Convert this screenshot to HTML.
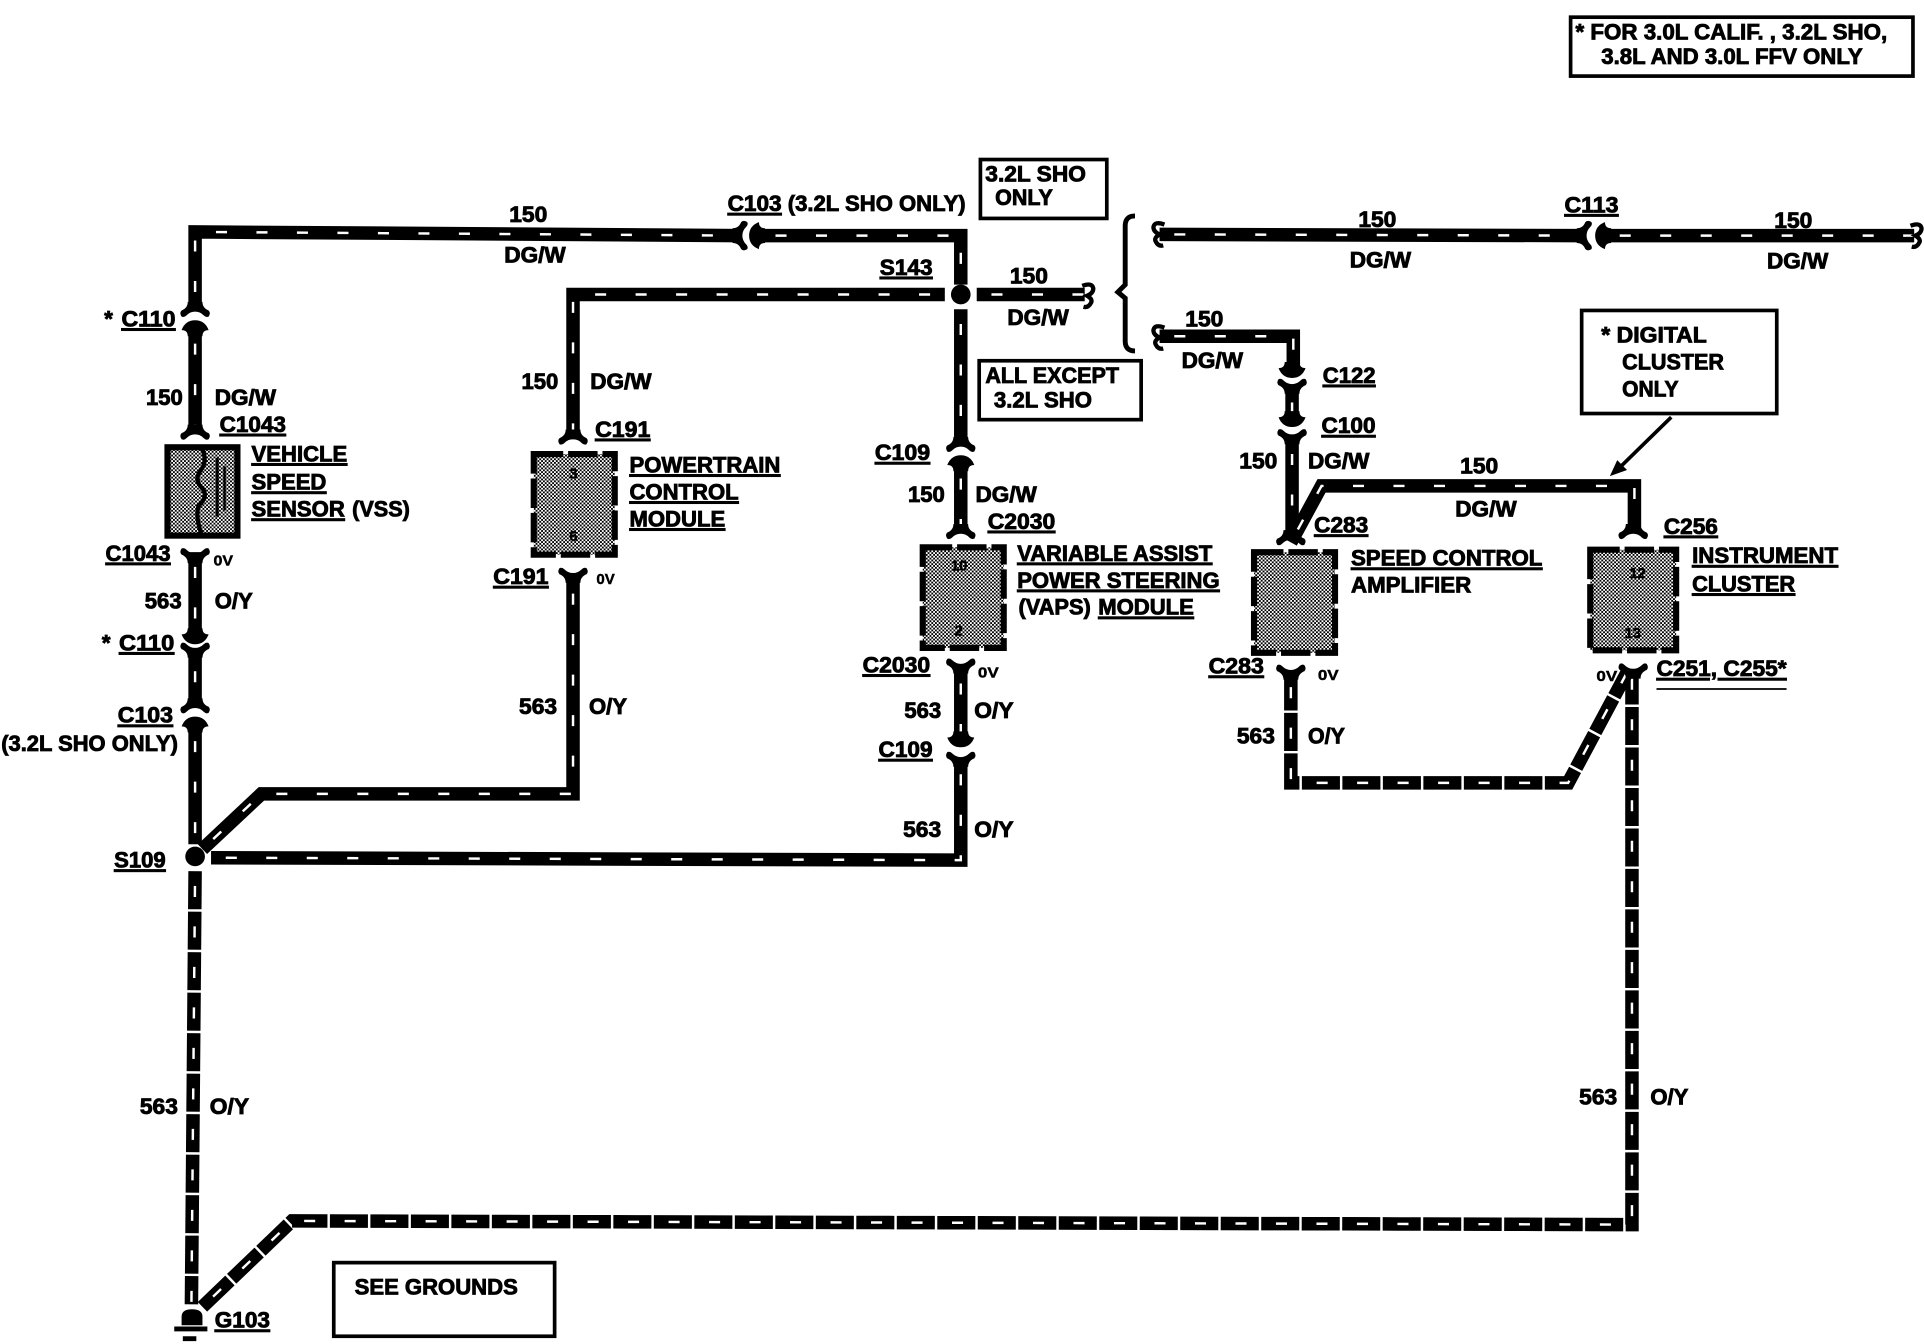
<!DOCTYPE html>
<html><head><meta charset="utf-8"><title>Diagram</title>
<style>
html,body{margin:0;padding:0;background:#fff}
svg{display:block}
text{font-family:"Liberation Sans",sans-serif;font-weight:bold;font-size:18px;fill:#000;stroke:#000;stroke-width:.7}
.u{text-decoration:underline}
.s{font-size:12px;stroke-width:.35}
.w{fill:none;stroke:#000;stroke-width:11;stroke-linejoin:miter}
.d{fill:none;stroke:#fff;stroke-width:2;stroke-dasharray:9 24;stroke-dashoffset:-12}
.g{fill:none;stroke:#000;stroke-width:11;stroke-dasharray:31 2}
.b{fill:none;stroke:#000;stroke-width:3}
.m{fill:url(#dots);stroke:#000;stroke-width:5;stroke-dasharray:24 4}
</style></head><body>
<svg width="1924" height="1344" viewBox="0 0 1568 1095.3" xmlns="http://www.w3.org/2000/svg">
<defs>
<pattern id="dots" patternUnits="userSpaceOnUse" width="3" height="3">
<rect width="3" height="3" fill="#fff"/><rect width="1.5" height="1.5" fill="#000"/><rect x="1.5" y="1.5" width="1.5" height="1.5" fill="#000"/>
</pattern>
<path id="f" d="M-6,-8 L6,-8 Q6,-3 11,-1 Q13,1 11,4 Q9,5 7,3 Q4,0 0,0 Q-4,0 -7,3 Q-9,5 -11,4 Q-13,1 -11,-1 Q-6,-3 -6,-8Z" fill="#000"/>
<path id="c" d="M-6,8 L6,8 Q6,3 11,3 Q8,-5 0,-5 Q-8,-5 -11,3 Q-6,3 -6,8Z" fill="#000"/>
<path id="sq" d="M-4,-8 Q4,-11 5,-6 Q5,-2 0,0 Q5,3 3,6 Q1,10 -3,9" fill="none" stroke="#000" stroke-width="3.500"/>
</defs>

<!-- wires 150 -->
<path class="w" d="M159,250 V189 L603,192"/><path class="d" d="M159,250 V189 L603,192"/>
<path class="w" d="M620,192 H783 V232"/><path class="d" d="M620,192 H783 V232"/>
<path class="w" d="M159,268 V352"/><path class="d" d="M159,268 V352"/>
<path class="w" d="M770,240 H467 V358"/><path class="d" d="M770,240 H467 V358"/>
<path class="w" d="M796,240 H884"/><path class="d" d="M796,240 H884"/>
<path class="w" d="M783,252 V362"/><path class="d" d="M783,252 V362"/>
<path class="w" d="M783,378 V432"/><path class="d" d="M783,378 V432"/>
<path class="w" d="M945,191 L1288,192"/><path class="d" d="M945,191 L1288,192"/>
<path class="w" d="M1308,192 H1560"/><path class="d" d="M1308,192 H1560"/>
<path class="w" d="M945,274 H1054 V298"/><path class="d" d="M945,274 H1054 V298"/>
<path class="w" d="M1053,316 V340"/><path class="d" d="M1053,316 V340"/>
<path class="w" d="M1053,358 V440"/><path class="d" d="M1053,358 V440"/>
<path class="w" d="M1052,442 L1077,396 H1332 V430"/><path class="d" d="M1052,442 L1077,396 H1332 V430"/>

<!-- wires 563 -->
<path class="w" d="M159,450 V518"/><path class="d" d="M159,450 V518"/>
<path class="w" d="M159,535 V575"/><path class="d" d="M159,535 V575"/>
<path class="w" d="M159,592 V688"/><path class="d" d="M159,592 V688"/>
<path class="w" d="M165,692 L213,647 H467 V470"/><path class="d" d="M165,692 L213,647 H467 V470"/>
<path class="w" d="M172,699 L783,701 V622"/><path class="d" d="M172,699 L783,701 V622"/>
<path class="w" d="M783,545 V603"/><path class="d" d="M783,545 V603"/>
<path class="g" d="M159,710 L156,1063"/><path class="d" d="M159,710 L156,1063"/>
<path class="g" d="M165,1065 L238,995 L1330,998 V552"/><path class="d" d="M165,1065 L238,995 L1330,998 V552"/>
<path class="g" d="M1052,548 V638 H1278 L1326,548"/><path class="d" d="M1052,548 V638 H1278 L1326,548"/>

<!-- connectors -->
<use href="#f" x="159" y="254"/><use href="#c" x="159" y="266"/>
<use href="#f" x="159" y="354"/>
<use href="#f" transform="translate(159,451) scale(1,-1)"/>
<use href="#c" transform="translate(159,520) scale(1,-1)"/><use href="#f" transform="translate(159,528) scale(1,-1)"/>
<use href="#f" x="159" y="577"/><use href="#c" x="159" y="589"/>
<use href="#f" x="467" y="358"/>
<use href="#f" transform="translate(467,467) scale(1,-1)"/>
<use href="#f" x="783" y="364"/><use href="#c" x="783" y="376"/>
<use href="#f" x="783" y="435"/>
<use href="#f" transform="translate(783,541) scale(1,-1)"/>
<use href="#c" transform="translate(783,604) scale(1,-1)"/><use href="#f" transform="translate(783,617) scale(1,-1)"/>
<use href="#c" transform="translate(1053,303) scale(1,-1)"/><use href="#f" transform="translate(1053,313) scale(1,-1)"/>
<use href="#c" transform="translate(1053,343) scale(1,-1)"/><use href="#f" transform="translate(1053,354) scale(1,-1)"/>
<use href="#f" x="1052" y="440"/>
<use href="#f" transform="translate(1052,546) scale(1,-1)"/>
<use href="#f" x="1331" y="435"/>
<use href="#f" transform="translate(1331,545) scale(1,-1)"/>
<use href="#f" transform="translate(605,192) rotate(-90)"/><use href="#c" transform="translate(615.500,192) rotate(-90)"/>
<use href="#f" transform="translate(1293,192) rotate(-90)"/><use href="#c" transform="translate(1305,192) rotate(-90)"/>
<!-- splices -->
<circle cx="783" cy="240" r="8"/><circle cx="159" cy="698" r="8"/>
<!-- squiggles -->
<use href="#sq" x="886" y="241"/><use href="#sq" transform="translate(945,191) scale(-1,1)"/><use href="#sq" transform="translate(945,275) scale(-1,1)"/><use href="#sq" x="1561" y="192"/>
<!-- brace -->
<path d="M925,176 Q917,176 917,184 V232 L911,238 L917,243 V278 Q917,286 925,286" fill="none" stroke="#000" stroke-width="4"/>
<!-- ground -->
<path d="M148,1080 V1073 Q148,1067 156.500,1067 Q165,1067 165,1073 V1080Z M142,1081 H169 V1085 H142Z M149,1089 H160 V1093 H149Z" fill="#000"/>

<!-- VSS sensor -->
<rect x="136.500" y="364.500" width="57" height="72" fill="url(#dots)" stroke="#000" stroke-width="5"/>
<path d="M164,364 Q170,376 163,384 Q158,392 165,398 Q170,405 162,412 Q159,420 164,435" fill="none" stroke="#000" stroke-width="3.500"/>
<path d="M177,373 V421" stroke="#000" stroke-width="2.500" fill="none"/>
<path d="M183,380 V416" stroke="#000" stroke-width="2" fill="none"/>
<!-- modules -->
<rect class="m" x="435" y="370" width="66" height="82"/>
<rect class="m" x="752" y="446" width="66" height="82"/>
<rect class="m" x="1022" y="450" width="66" height="82"/>
<rect class="m" x="1296" y="448" width="70" height="82"/>
<text class="s" x="464" y="390">3</text><text class="s" x="464" y="441">6</text>
<text class="s" x="775" y="465">10</text><text class="s" x="778" y="518">2</text>
<text class="s" x="1328" y="471">12</text><text class="s" x="1324" y="520">13</text>

<!-- boxes -->
<rect class="b" x="1280" y="14" width="279" height="48"/>
<rect class="b" x="799" y="130" width="103" height="48"/>
<rect class="b" x="798" y="294" width="132" height="48"/>
<rect class="b" x="1289" y="253" width="159" height="84"/>
<rect class="b" x="272" y="1029" width="180" height="60"/>
<path d="M1362,340 L1320,381" stroke="#000" stroke-width="3"/>
<path d="M1312,388 L1318,375 L1326,383Z" fill="#000"/>

<!-- box text -->
<text x="1284" y="32" textLength="254" lengthAdjust="spacingAndGlyphs">* FOR 3.0L CALIF. , 3.2L SHO,</text>
<text x="1305" y="52" textLength="213" lengthAdjust="spacingAndGlyphs">3.8L AND 3.0L FFV ONLY</text>
<text x="803" y="148" textLength="82" lengthAdjust="spacingAndGlyphs">3.2L SHO</text>
<text x="811" y="167" textLength="47" lengthAdjust="spacingAndGlyphs">ONLY</text>
<text x="803" y="312" textLength="109" lengthAdjust="spacingAndGlyphs">ALL EXCEPT</text>
<text x="810" y="332" textLength="80" lengthAdjust="spacingAndGlyphs">3.2L SHO</text>
<text x="1305" y="279" textLength="86" lengthAdjust="spacingAndGlyphs">* DIGITAL</text>
<text x="1322" y="301" textLength="83" lengthAdjust="spacingAndGlyphs">CLUSTER</text>
<text x="1322" y="323" textLength="46" lengthAdjust="spacingAndGlyphs">ONLY</text>
<text x="289" y="1055" textLength="133" lengthAdjust="spacingAndGlyphs">SEE GROUNDS</text>

<!-- labels -->
<text x="415" y="181" textLength="31" lengthAdjust="spacingAndGlyphs">150</text>
<text x="411" y="214" textLength="50" lengthAdjust="spacingAndGlyphs">DG/W</text>
<text class="u" x="593" y="172" textLength="44" lengthAdjust="spacingAndGlyphs">C103</text>
<text x="642" y="172" textLength="145" lengthAdjust="spacingAndGlyphs">(3.2L SHO ONLY)</text>
<text class="u" x="717" y="224" textLength="43" lengthAdjust="spacingAndGlyphs">S143</text>
<text x="823" y="231" textLength="31" lengthAdjust="spacingAndGlyphs">150</text>
<text x="821" y="265" textLength="50" lengthAdjust="spacingAndGlyphs">DG/W</text>
<text x="1107" y="185" textLength="31" lengthAdjust="spacingAndGlyphs">150</text>
<text x="1100" y="218" textLength="50" lengthAdjust="spacingAndGlyphs">DG/W</text>
<text class="u" x="1275" y="173" textLength="44" lengthAdjust="spacingAndGlyphs">C113</text>
<text x="1446" y="186" textLength="31" lengthAdjust="spacingAndGlyphs">150</text>
<text x="1440" y="219" textLength="50" lengthAdjust="spacingAndGlyphs">DG/W</text>
<text x="966" y="266" textLength="31" lengthAdjust="spacingAndGlyphs">150</text>
<text x="963" y="300" textLength="50" lengthAdjust="spacingAndGlyphs">DG/W</text>
<text class="u" x="1078" y="312" textLength="43" lengthAdjust="spacingAndGlyphs">C122</text>
<text class="u" x="1077" y="353" textLength="44" lengthAdjust="spacingAndGlyphs">C100</text>
<text x="1010" y="382" textLength="31" lengthAdjust="spacingAndGlyphs">150</text>
<text x="1066" y="382" textLength="50" lengthAdjust="spacingAndGlyphs">DG/W</text>
<text x="1190" y="386" textLength="31" lengthAdjust="spacingAndGlyphs">150</text>
<text x="1186" y="421" textLength="50" lengthAdjust="spacingAndGlyphs">DG/W</text>
<text class="u" x="1071" y="434" textLength="44" lengthAdjust="spacingAndGlyphs">C283</text>
<text class="u" x="1356" y="435" textLength="44" lengthAdjust="spacingAndGlyphs">C256</text>
<text class="u" x="1101" y="461" textLength="156" lengthAdjust="spacingAndGlyphs">SPEED CONTROL</text>
<text x="1101" y="483" textLength="98" lengthAdjust="spacingAndGlyphs">AMPLIFIER</text>
<text class="u" x="1379" y="459" textLength="119" lengthAdjust="spacingAndGlyphs">INSTRUMENT</text>
<text class="u" x="1379" y="482" textLength="84" lengthAdjust="spacingAndGlyphs">CLUSTER</text>
<text class="u" x="985" y="549" textLength="45" lengthAdjust="spacingAndGlyphs">C283</text>
<text class="s" x="1074" y="554" textLength="17" lengthAdjust="spacingAndGlyphs">0V</text>
<text x="1008" y="606" textLength="31" lengthAdjust="spacingAndGlyphs">563</text>
<text x="1066" y="606" textLength="30" lengthAdjust="spacingAndGlyphs">O/Y</text>
<text class="s" x="1301" y="555" textLength="17" lengthAdjust="spacingAndGlyphs">0V</text>
<text class="u" x="1350" y="551" textLength="106" lengthAdjust="spacingAndGlyphs">C251, C255*</text>
<path d="M1350,561.500 H1456" stroke="#000" stroke-width="1.500"/>
<text x="1287" y="900" textLength="31" lengthAdjust="spacingAndGlyphs">563</text>
<text x="1345" y="900" textLength="31" lengthAdjust="spacingAndGlyphs">O/Y</text>
<text class="u" x="713" y="375" textLength="45" lengthAdjust="spacingAndGlyphs">C109</text>
<text x="740" y="409" textLength="30" lengthAdjust="spacingAndGlyphs">150</text>
<text x="795" y="409" textLength="50" lengthAdjust="spacingAndGlyphs">DG/W</text>
<text class="u" x="805" y="431" textLength="55" lengthAdjust="spacingAndGlyphs">C2030</text>
<text class="u" x="829" y="457" textLength="159" lengthAdjust="spacingAndGlyphs">VARIABLE ASSIST</text>
<text class="u" x="829" y="479" textLength="165" lengthAdjust="spacingAndGlyphs">POWER STEERING</text>
<text x="830" y="501" textLength="59" lengthAdjust="spacingAndGlyphs">(VAPS)</text>
<text class="u" x="895" y="501" textLength="78" lengthAdjust="spacingAndGlyphs">MODULE</text>
<text class="u" x="703" y="548" textLength="55" lengthAdjust="spacingAndGlyphs">C2030</text>
<text class="s" x="797" y="552" textLength="17" lengthAdjust="spacingAndGlyphs">0V</text>
<text x="737" y="585" textLength="30" lengthAdjust="spacingAndGlyphs">563</text>
<text x="794" y="585" textLength="32" lengthAdjust="spacingAndGlyphs">O/Y</text>
<text class="u" x="716" y="617" textLength="44" lengthAdjust="spacingAndGlyphs">C109</text>
<text x="736" y="682" textLength="31" lengthAdjust="spacingAndGlyphs">563</text>
<text x="794" y="682" textLength="32" lengthAdjust="spacingAndGlyphs">O/Y</text>
<text x="425" y="317" textLength="30" lengthAdjust="spacingAndGlyphs">150</text>
<text x="481" y="317" textLength="50" lengthAdjust="spacingAndGlyphs">DG/W</text>
<text class="u" x="485" y="356" textLength="45" lengthAdjust="spacingAndGlyphs">C191</text>
<text class="u" x="513" y="385" textLength="123" lengthAdjust="spacingAndGlyphs">POWERTRAIN</text>
<text class="u" x="513" y="407" textLength="89" lengthAdjust="spacingAndGlyphs">CONTROL</text>
<text class="u" x="513" y="429" textLength="78" lengthAdjust="spacingAndGlyphs">MODULE</text>
<text class="u" x="402" y="476" textLength="45" lengthAdjust="spacingAndGlyphs">C191</text>
<text class="s" x="486" y="476" textLength="15" lengthAdjust="spacingAndGlyphs">0V</text>
<text x="423" y="582" textLength="31" lengthAdjust="spacingAndGlyphs">563</text>
<text x="480" y="582" textLength="31" lengthAdjust="spacingAndGlyphs">O/Y</text>
<text x="85" y="266">*</text>
<text class="u" x="99" y="266" textLength="44" lengthAdjust="spacingAndGlyphs">C110</text>
<text x="119" y="330" textLength="30" lengthAdjust="spacingAndGlyphs">150</text>
<text x="175" y="330" textLength="50" lengthAdjust="spacingAndGlyphs">DG/W</text>
<text class="u" x="179" y="352" textLength="54" lengthAdjust="spacingAndGlyphs">C1043</text>
<text class="u" x="205" y="376" textLength="78" lengthAdjust="spacingAndGlyphs">VEHICLE</text>
<text class="u" x="205" y="399" textLength="61" lengthAdjust="spacingAndGlyphs">SPEED</text>
<text class="u" x="205" y="421" textLength="76" lengthAdjust="spacingAndGlyphs">SENSOR</text>
<text x="287" y="421" textLength="47" lengthAdjust="spacingAndGlyphs">(VSS)</text>
<text class="u" x="86" y="457" textLength="53" lengthAdjust="spacingAndGlyphs">C1043</text>
<text class="s" x="174" y="461" textLength="16" lengthAdjust="spacingAndGlyphs">0V</text>
<text x="118" y="496" textLength="30" lengthAdjust="spacingAndGlyphs">563</text>
<text x="175" y="496" textLength="31" lengthAdjust="spacingAndGlyphs">O/Y</text>
<text x="83" y="530">*</text>
<text class="u" x="97" y="530" textLength="45" lengthAdjust="spacingAndGlyphs">C110</text>
<text class="u" x="96" y="589" textLength="45" lengthAdjust="spacingAndGlyphs">C103</text>
<text x="1" y="612" textLength="144" lengthAdjust="spacingAndGlyphs">(3.2L SHO ONLY)</text>
<text class="u" x="93" y="707" textLength="42" lengthAdjust="spacingAndGlyphs">S109</text>
<text x="114" y="908" textLength="31" lengthAdjust="spacingAndGlyphs">563</text>
<text x="171" y="908" textLength="32" lengthAdjust="spacingAndGlyphs">O/Y</text>
<text class="u" x="175" y="1082" textLength="45" lengthAdjust="spacingAndGlyphs">G103</text>
</svg>
</body></html>
